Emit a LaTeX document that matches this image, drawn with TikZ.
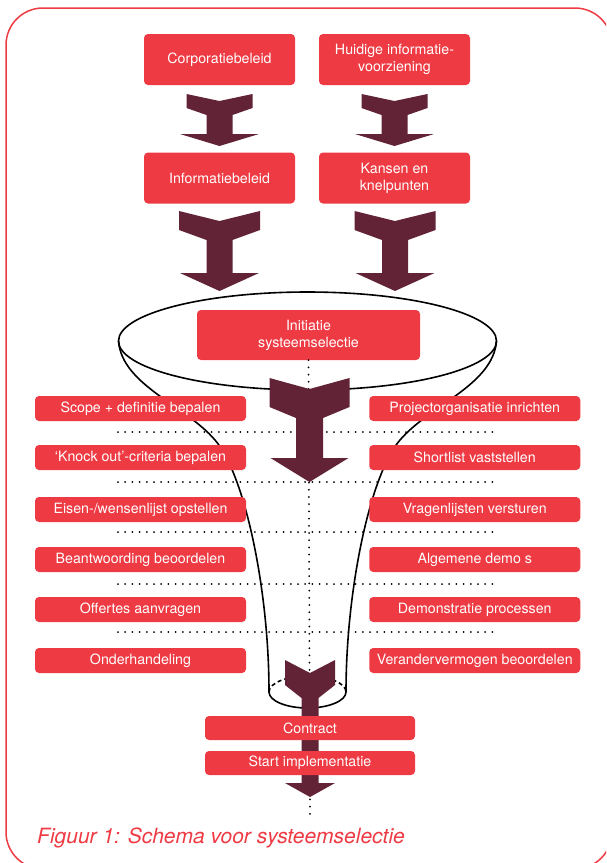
\documentclass[tikz,border=0pt]{standalone}
\usepackage{fontspec}
\setmainfont{TeX Gyre Heros}
\usetikzlibrary{positioning}
\definecolor{rood}{RGB}{238,58,67}
\definecolor{bordeaux}{RGB}{98,35,54}

\begin{document}
\begin{tikzpicture}
		[	x=1pt,y=-1pt,
		blok/.style={rectangle,rounded corners=4pt,fill=rood,text=white,inner sep=0pt,
			align=center,font=\fontsize{14.2}{17}\selectfont},
		hoog/.style={blok,minimum width=151pt,minimum height=51pt},
		zij/.style={blok,minimum width=211pt,minimum height=25pt},
		onder/.style={blok,minimum width=210pt,minimum height=24pt},
		pijl/.style={fill=bordeaux},
		trechter/.style={draw=black,line width=1.6pt},
		stippel/.style={line width=2pt,line cap=round,dash pattern=on 0pt off 7.2pt}
		]
		\clip (0,0) rectangle (606,863);
		\draw[rood,line width=1.5pt,rounded corners=37pt] (6,8) rectangle (612,869);

% trechter
		\draw[trechter] (307.5,341) ellipse [x radius=189pt,y radius=49pt];
		\draw[trechter] (118.5,341) .. controls (122,385) and (185,405) .. (215,440)
			.. controls (245,475) and (269,590) .. (269,692);
		\draw[trechter] (496.5,341) .. controls (493,385) and (430,405) .. (400,440)
			.. controls (370,475) and (346,590) .. (346,692);
		\draw[trechter,dash pattern=on 4pt off 3pt] (269,692) arc[start angle=180,end angle=0,x radius=38.5pt,y radius=16pt];
		\draw[trechter] (269,692) arc[start angle=180,end angle=360,x radius=38.5pt,y radius=16pt];

		\node[blok,minimum width=223pt,minimum height=50pt] (initiatie) at (308.5,335) {Initiatie\\systeemselectie};

% stippellijnen
		\coordinate (eind) at (310,817);
		\draw[stippel] (initiatie.south) -- (eind);
		\foreach \y in {432,482,532,584,632}
			\draw[stippel] (118,\y) -- (495,\y);

% pijlen
		\foreach \xc/\ya/\yn/\yo/\yi/\yh/\yp/\ba/\bs/\bw in {
			219.5/94/101/108/115/134/146/33/13/39.5,
			394.5/94/101/108/115/134/146/33/13/39.5,
			219.5/211/221/230/240/273/291/40.5/13/39.5,
			395/211/221/230/240/273/291/40.5/13/39.5,
			309.5/378/389/407/418/458/482/40/13.5/39,
			310/660/673/685/698/783/797/25/8.5/25}
			\fill[pijl] (\xc-\ba,\ya) -- (\xc,\yn) -- (\xc+\ba,\ya) -- (\xc+\ba,\yo) -- (\xc+\bs,\yi)
				-- (\xc+\bs,\yh) -- (\xc+\bw,\yh) -- (\xc,\yp) -- (\xc-\bw,\yh) -- (\xc-\bs,\yh)
				-- (\xc-\bs,\yi) -- (\xc-\ba,\yo) -- cycle;

		\node[hoog] (corporatie) at (219.5,59.5) {Corporatiebeleid};
		\node[hoog] (huidig) at (394.5,59.5) {Huidige informatie-\\voorziening};
		\node[hoog] (informatie) at (219.5,178) {Informatiebeleid};
		\node[hoog] (kansen) at (394.5,178) {Kansen en\\knelpunten};

		\node[zij] (scope) at (140.5,408.5) {Scope + definitie bepalen};
		\node[zij] (knockout) at (140.5,457.5) {‘Knock out’-criteria bepalen};
		\node[zij] (eisen) at (140.5,509.5) {Eisen-/wensenlijst opstellen};
		\node[zij] (beantwoording) at (140.5,559.5) {Beantwoording beoordelen};
		\node[zij] (offertes) at (140.5,609.5) {Offertes aanvragen};
		\node[zij] (onderhandeling) at (140.5,660.5) {Onderhandeling};

		\node[zij] (project) at (474.75,408.5) {Projectorganisatie inrichten};
		\node[zij] (shortlist) at (474.75,457.5) {Shortlist vaststellen};
		\node[zij] (vragen) at (474.75,509.5) {Vragenlijsten versturen};
		\node[zij] (demos) at (474.75,559.5) {Algemene demo s};
		\node[zij] (demonstratie) at (474.75,609.5) {Demonstratie processen};
		\node[zij] (verander) at (474.75,660.5) {Verandervermogen beoordelen};

		\node[onder] (contract) at (310,728) {Contract};
		\node[onder] (start) at (310,763) {Start implementatie};

		\node[anchor=base west,text=rood,inner sep=0pt,font=\fontsize{21}{25}\selectfont\itshape]
			(onderschrift) at (37,843) {Figuur 1: Schema voor systeemselectie};
	\end{tikzpicture}
\end{document}
